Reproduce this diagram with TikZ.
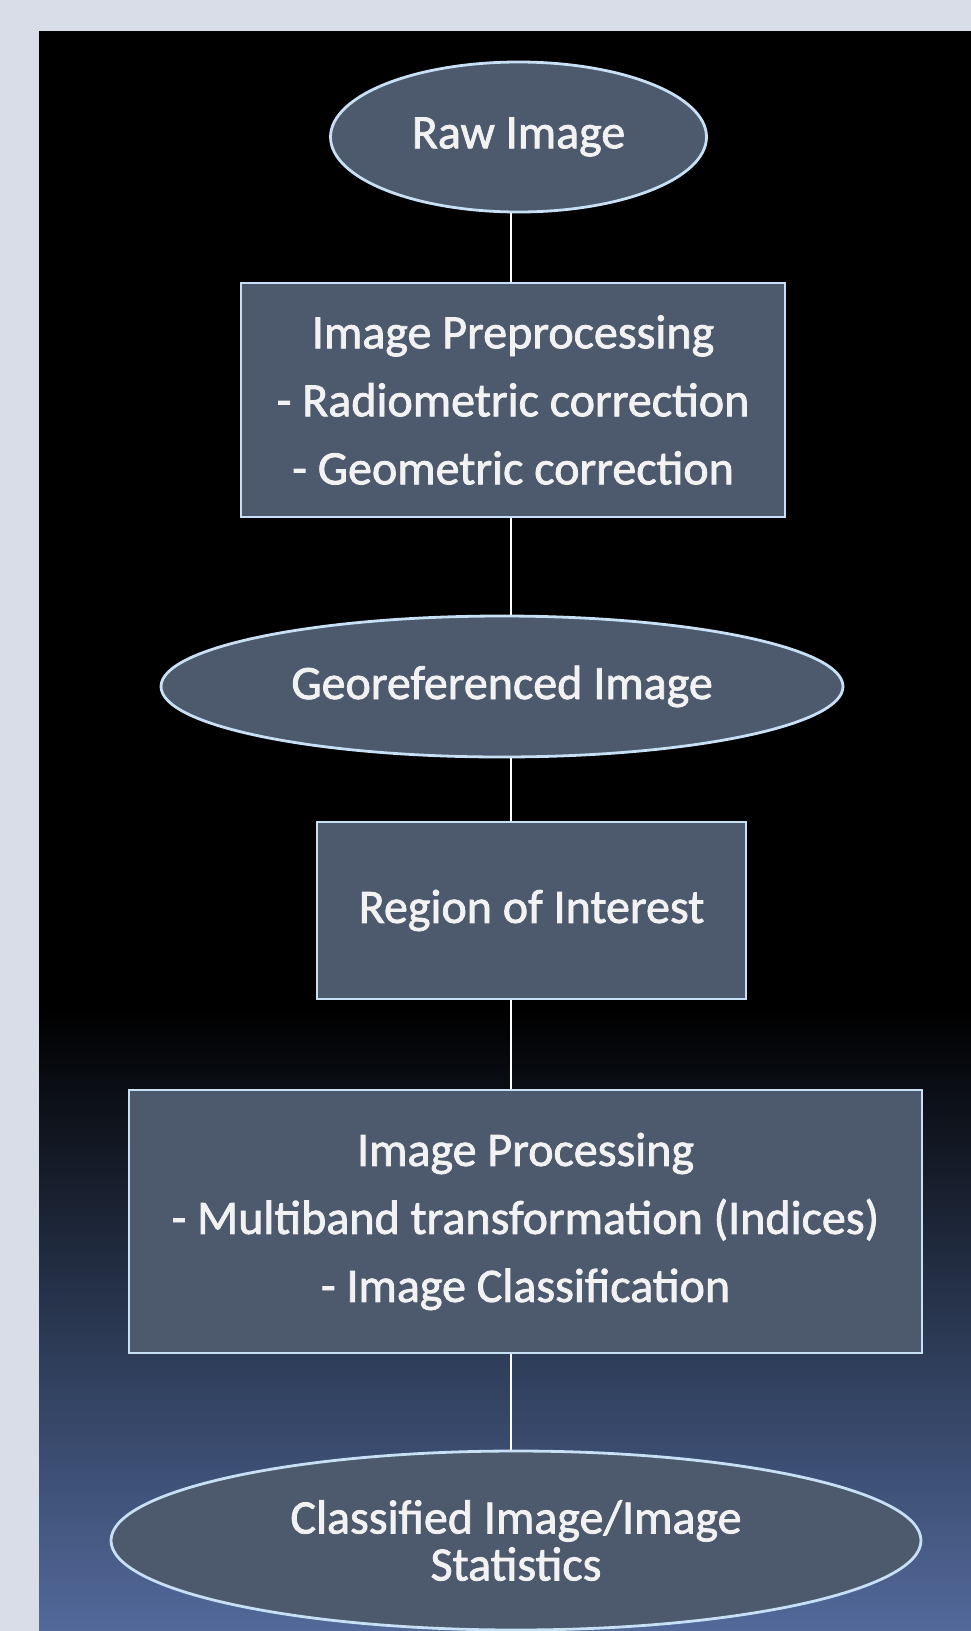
\documentclass[tikz,border=0pt]{standalone}
\usepackage{fontspec}
\setmainfont{Carlito}
\newfontfamily\boxfont{Carlito}[FakeBold=1.6]
\usetikzlibrary{shapes.geometric}
\definecolor{pagebg}{HTML}{D9DDE8}
\definecolor{boxfill}{HTML}{4D5A6E}
\definecolor{boxline}{HTML}{C8E0F5}
\definecolor{txt}{HTML}{F2F2F2}
\definecolor{bluebot}{HTML}{52699A}
\definecolor{bluemid}{HTML}{2C3A55}
\tikzset{
  shapebase/.style={fill=boxfill, draw=boxline, line width=2.8pt, inner sep=0pt, text=txt, align=center,
    font=\boxfont\fontsize{48}{68}\selectfont},
  ovalnode/.style={shapebase, ellipse},
  rectnode/.style={shapebase, rectangle},
  link/.style={draw=white, line width=2pt}
}
\begin{document}
\begin{tikzpicture}[x=1pt,y=-1pt]
\useasboundingbox (0,0) rectangle (971,1631);
\fill[pagebg] (0,0) rectangle (971,1631);
\fill[black] (39,31) rectangle (971,1010);
\shade[top color=black, bottom color=bluemid] (39,1010) rectangle (971,1340);
\shade[top color=bluemid, bottom color=bluebot] (39,1340) rectangle (971,1631);
\coordinate (L) at (511,0);
\node[ovalnode, minimum width=376pt, minimum height=150pt] (raw) at (518.5,137) {Raw Image};
\node[rectnode, minimum width=544pt, minimum height=234pt] (pre) at (513,400) {Image Preprocessing\\- Radiometric correction\\- Geometric correction};
\node[ovalnode, minimum width=682pt, minimum height=141pt] (geo) at (502,686.5) {Georeferenced Image};
\node[rectnode, minimum width=429pt, minimum height=177pt] (roi) at (531.5,910.5) {Region of Interest};
\node[rectnode, minimum width=793pt, minimum height=263pt] (proc) at (525.5,1221.5) {Image Processing\\- Multiband transformation (Indices)\\- Image Classification};
\node[ovalnode, minimum width=810pt, minimum height=179pt, font=\boxfont\fontsize{48}{47}\selectfont] (cls) at (516,1540.5) {Classified Image/Image\\Statistics};
\draw[link] (raw.south -| L) -- (pre.north -| L);
\draw[link] (pre.south -| L) -- (geo.north -| L);
\draw[link] (geo.south -| L) -- (roi.north -| L);
\draw[link] (roi.south -| L) -- (proc.north -| L);
\draw[link] (proc.south -| L) -- (cls.north -| L);
\end{tikzpicture}
\end{document}
